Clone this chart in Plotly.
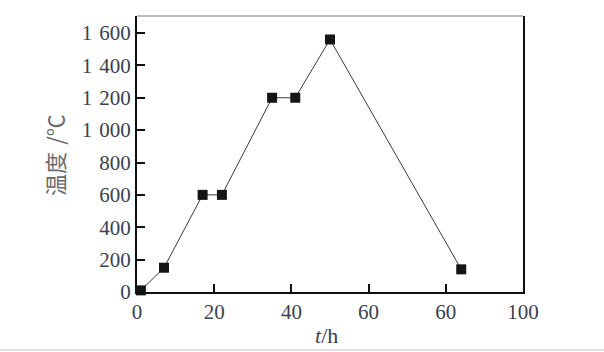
import plotly.graph_objects as go

time_h = [1, 7, 17, 22, 35, 41, 50, 84]
temp_c = [10, 150, 600, 600, 1200, 1200, 1560, 140]

x_tickvals = [0, 20, 40, 60, 80, 100]
x_ticktext = ["0", "20", "40", "60", "60", "100"]
y_tickvals = [0, 200, 400, 600, 800, 1000, 1200, 1400, 1600]
y_ticktext = ["0", "200", "400", "600", "800", "1\u2004000", "1\u2004200", "1\u2004400", "1\u2004600"]

fig = go.Figure()
fig.add_trace(go.Scatter(
    x=time_h, y=temp_c, mode="lines+markers",
    line=dict(color="#3a3a3a", width=1),
    marker=dict(symbol="square", size=10, color="#151515"),
    cliponaxis=False, showlegend=False,
))

tickfont = dict(family="Liberation Serif, Times New Roman, serif", size=21, color="#39424e")

fig.update_layout(
    width=604, height=352,
    margin=dict(l=137, r=81, t=16, b=60),
    paper_bgcolor="white", plot_bgcolor="white",
    xaxis=dict(range=[0, 100], tickvals=x_tickvals, ticktext=x_ticktext,
               ticks="inside", ticklen=8, tickwidth=1.5, tickcolor="#111",
               showline=True, linecolor="#111", linewidth=2,
               showgrid=False, zeroline=False, tickfont=tickfont),
    yaxis=dict(range=[0, 1705], tickvals=y_tickvals, ticktext=y_ticktext,
               ticks="inside", ticklen=8, tickwidth=1.5, tickcolor="#111",
               showline=True, linecolor="#111", linewidth=2, mirror=True,
               showgrid=False, zeroline=False, tickfont=tickfont),
    shapes=[
        dict(type="line", xref="paper", yref="paper", x0=0, x1=1, y0=1, y1=1,
             line=dict(color="#aaaaaa", width=1.5)),
        dict(type="line", xref="paper", yref="paper", x0=-137/386, x1=1 + 81/386,
             y0=-58/276, y1=-58/276, line=dict(color="#e0e0e0", width=2)),
    ],
    annotations=[
        dict(text="温度\u2004/℃", xref="paper", yref="paper", x=-0.215, y=0.496,
             xanchor="center", yanchor="middle", textangle=-90, showarrow=False,
             font=dict(family="Noto Sans CJK SC, Liberation Serif", size=22, color="#6a6a6a")),
        dict(text="<i>t</i>/h", xref="paper", yref="paper", x=0.492, y=-0.156,
             xanchor="center", yanchor="middle", showarrow=False,
             font=dict(family="Liberation Serif, serif", size=22, color="#39424e")),
    ],
)

fig.write_html("out.html")
